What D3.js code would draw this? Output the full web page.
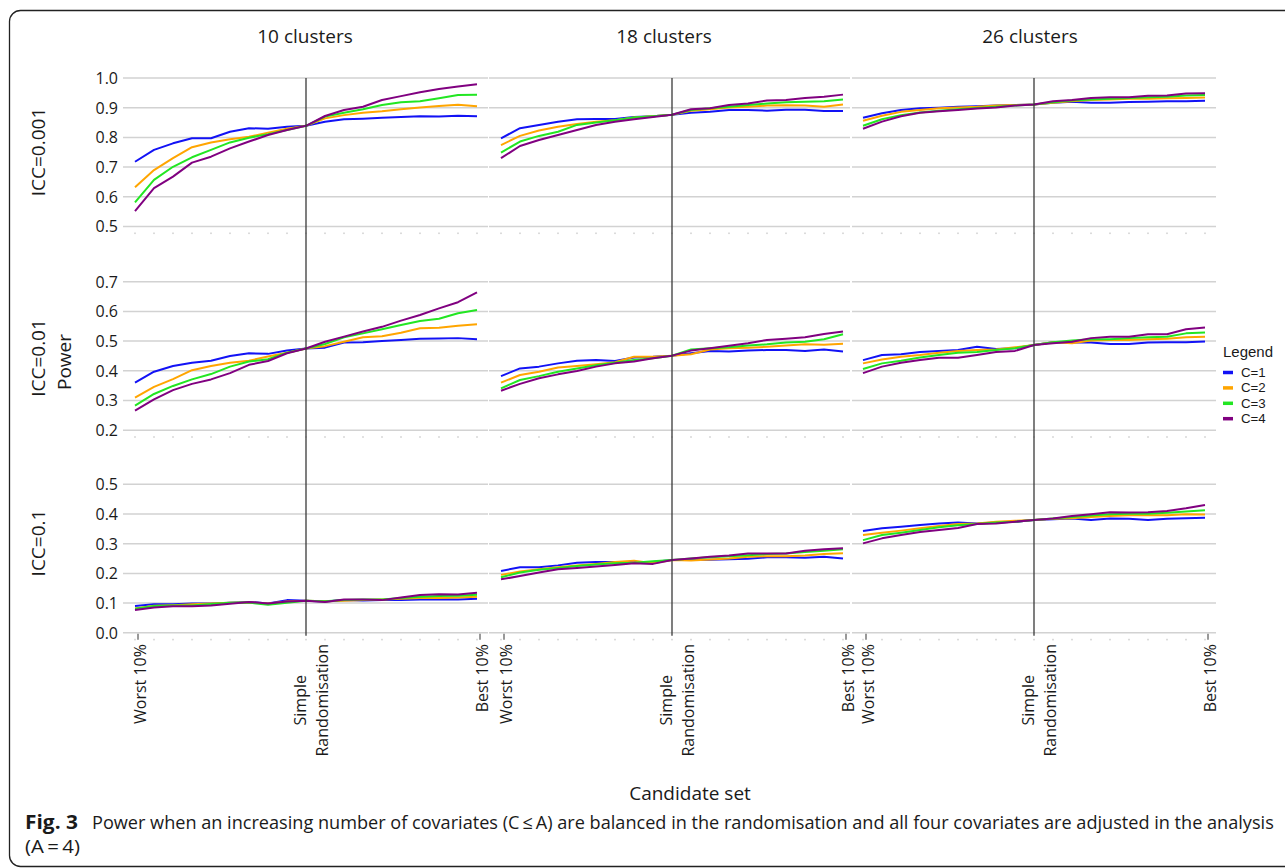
<!DOCTYPE html>
<html>
<head>
<meta charset="utf-8">
<script src="https://cdnjs.cloudflare.com/ajax/libs/d3/7.8.5/d3.min.js"></script>
<style>
    body { margin: 0; background: #fff; }
    svg { display: block; font-family: 'Open Sans', sans-serif; }
</style>
</head>
<body>
<div id="viz-power"></div>
<script>
// Candidate sets along x (worst 10% ... simple randomisation ... best 10%)
const candidateSets = [
    'Worst 10%', 'Worst 20%', 'Worst 30%', 'Worst 40%', 'Worst 50%', 'Worst 60%', 'Worst 70%', 'Worst 80%', 'Worst 90%',
    'Simple Randomisation',
    'Best 90%', 'Best 80%', 'Best 70%', 'Best 60%', 'Best 50%', 'Best 40%', 'Best 30%', 'Best 20%', 'Best 10%'
];
const tickLabels = [
    { key: 'Worst 10%', lines: ['Worst 10%'] },
    { key: 'Simple Randomisation', lines: ['Simple', 'Randomisation'] },
    { key: 'Best 10%', lines: ['Best 10%'] }
];
const clusterLabels = ['10 clusters', '18 clusters', '26 clusters'];
const iccLabels = ['ICC=0.001', 'ICC=0.01', 'ICC=0.1'];
const seriesNames = ['C=1', 'C=2', 'C=3', 'C=4'];
const seriesColors = ['#1212f5', '#ffa500', '#22e622', '#800080'];
const yTicksIcc0001 = [0.5, 0.6, 0.7, 0.8, 0.9, 1.0];
const yTicksIcc001 = [0.2, 0.3, 0.4, 0.5, 0.6, 0.7];
const yTicksIcc01 = [0.0, 0.1, 0.2, 0.3, 0.4, 0.5];

// Power, one row per C (C=1..4)
const power_k10_icc0001 = [
    [0.718, 0.758, 0.780, 0.797, 0.797, 0.819, 0.831, 0.829, 0.836, 0.839, 0.853, 0.861, 0.863, 0.866, 0.869, 0.871, 0.870, 0.873, 0.871],
    [0.632, 0.690, 0.730, 0.767, 0.783, 0.794, 0.802, 0.816, 0.829, 0.839, 0.864, 0.875, 0.883, 0.888, 0.895, 0.901, 0.906, 0.910, 0.905],
    [0.581, 0.657, 0.701, 0.733, 0.758, 0.783, 0.799, 0.811, 0.825, 0.839, 0.870, 0.883, 0.895, 0.909, 0.918, 0.922, 0.932, 0.943, 0.944],
    [0.552, 0.629, 0.668, 0.715, 0.735, 0.763, 0.786, 0.808, 0.825, 0.839, 0.872, 0.892, 0.903, 0.926, 0.939, 0.952, 0.963, 0.971, 0.979]
];
const power_k18_icc0001 = [
    [0.797, 0.831, 0.842, 0.853, 0.861, 0.862, 0.862, 0.869, 0.871, 0.876, 0.883, 0.886, 0.892, 0.892, 0.890, 0.893, 0.893, 0.889, 0.889],
    [0.774, 0.805, 0.823, 0.836, 0.845, 0.853, 0.858, 0.867, 0.871, 0.876, 0.890, 0.895, 0.901, 0.903, 0.907, 0.908, 0.907, 0.903, 0.911],
    [0.749, 0.786, 0.805, 0.819, 0.842, 0.850, 0.858, 0.867, 0.871, 0.876, 0.892, 0.898, 0.903, 0.909, 0.914, 0.918, 0.920, 0.922, 0.928],
    [0.730, 0.771, 0.791, 0.808, 0.825, 0.842, 0.853, 0.861, 0.869, 0.876, 0.895, 0.898, 0.909, 0.914, 0.924, 0.926, 0.933, 0.937, 0.944]
];
const power_k26_icc0001 = [
    [0.866, 0.881, 0.892, 0.898, 0.900, 0.903, 0.905, 0.907, 0.909, 0.911, 0.917, 0.920, 0.917, 0.917, 0.919, 0.920, 0.922, 0.922, 0.923],
    [0.856, 0.873, 0.886, 0.892, 0.898, 0.901, 0.903, 0.907, 0.909, 0.911, 0.917, 0.922, 0.926, 0.928, 0.930, 0.930, 0.932, 0.933, 0.934],
    [0.839, 0.861, 0.875, 0.884, 0.890, 0.895, 0.899, 0.903, 0.907, 0.911, 0.918, 0.924, 0.928, 0.930, 0.933, 0.935, 0.937, 0.941, 0.943],
    [0.829, 0.853, 0.871, 0.883, 0.888, 0.892, 0.897, 0.901, 0.907, 0.911, 0.922, 0.926, 0.933, 0.935, 0.935, 0.940, 0.941, 0.948, 0.949]
];
const power_k10_icc001 = [
    [0.360, 0.397, 0.416, 0.427, 0.434, 0.450, 0.459, 0.457, 0.468, 0.475, 0.478, 0.495, 0.496, 0.500, 0.504, 0.508, 0.509, 0.510, 0.506],
    [0.310, 0.346, 0.372, 0.402, 0.416, 0.427, 0.434, 0.448, 0.461, 0.475, 0.483, 0.498, 0.513, 0.516, 0.528, 0.543, 0.545, 0.552, 0.557],
    [0.283, 0.322, 0.349, 0.371, 0.389, 0.414, 0.431, 0.439, 0.461, 0.475, 0.490, 0.513, 0.526, 0.540, 0.554, 0.568, 0.575, 0.594, 0.605],
    [0.266, 0.304, 0.335, 0.356, 0.371, 0.392, 0.420, 0.433, 0.459, 0.475, 0.498, 0.515, 0.532, 0.548, 0.569, 0.588, 0.610, 0.631, 0.664]
];
const power_k18_icc001 = [
    [0.382, 0.408, 0.414, 0.425, 0.434, 0.436, 0.433, 0.445, 0.447, 0.451, 0.459, 0.467, 0.465, 0.468, 0.470, 0.470, 0.467, 0.472, 0.465],
    [0.360, 0.386, 0.397, 0.411, 0.416, 0.422, 0.429, 0.447, 0.447, 0.451, 0.456, 0.472, 0.476, 0.478, 0.481, 0.485, 0.489, 0.488, 0.491],
    [0.341, 0.369, 0.382, 0.397, 0.408, 0.419, 0.427, 0.436, 0.442, 0.451, 0.472, 0.476, 0.479, 0.485, 0.489, 0.495, 0.498, 0.506, 0.523],
    [0.333, 0.356, 0.375, 0.388, 0.399, 0.414, 0.425, 0.431, 0.442, 0.451, 0.468, 0.476, 0.484, 0.493, 0.504, 0.508, 0.513, 0.524, 0.532]
];
const power_k26_icc001 = [
    [0.436, 0.453, 0.456, 0.463, 0.467, 0.470, 0.481, 0.473, 0.476, 0.487, 0.496, 0.495, 0.495, 0.490, 0.490, 0.495, 0.496, 0.496, 0.499],
    [0.425, 0.438, 0.447, 0.453, 0.461, 0.467, 0.470, 0.472, 0.479, 0.487, 0.496, 0.493, 0.502, 0.504, 0.504, 0.506, 0.508, 0.513, 0.515],
    [0.406, 0.425, 0.434, 0.445, 0.453, 0.461, 0.463, 0.470, 0.476, 0.487, 0.496, 0.502, 0.506, 0.506, 0.510, 0.513, 0.515, 0.526, 0.529],
    [0.392, 0.414, 0.427, 0.436, 0.444, 0.444, 0.453, 0.463, 0.467, 0.487, 0.493, 0.498, 0.510, 0.515, 0.515, 0.523, 0.523, 0.540, 0.546]
];
const power_k10_icc01 = [
    [0.090, 0.096, 0.096, 0.099, 0.099, 0.101, 0.104, 0.099, 0.110, 0.108, 0.105, 0.110, 0.109, 0.110, 0.110, 0.112, 0.113, 0.112, 0.115],
    [0.082, 0.091, 0.093, 0.096, 0.099, 0.101, 0.102, 0.099, 0.105, 0.108, 0.106, 0.108, 0.110, 0.112, 0.115, 0.117, 0.117, 0.119, 0.121],
    [0.081, 0.090, 0.092, 0.092, 0.097, 0.101, 0.102, 0.094, 0.101, 0.108, 0.106, 0.110, 0.112, 0.112, 0.117, 0.121, 0.124, 0.125, 0.128],
    [0.077, 0.085, 0.089, 0.089, 0.092, 0.098, 0.104, 0.099, 0.105, 0.108, 0.104, 0.112, 0.112, 0.110, 0.119, 0.127, 0.130, 0.129, 0.135]
];
const power_k18_icc01 = [
    [0.208, 0.221, 0.221, 0.227, 0.236, 0.238, 0.238, 0.238, 0.238, 0.245, 0.245, 0.246, 0.248, 0.249, 0.254, 0.254, 0.253, 0.256, 0.250],
    [0.195, 0.206, 0.214, 0.221, 0.227, 0.232, 0.238, 0.243, 0.234, 0.245, 0.243, 0.247, 0.250, 0.256, 0.258, 0.258, 0.260, 0.265, 0.268],
    [0.187, 0.203, 0.212, 0.218, 0.225, 0.230, 0.234, 0.236, 0.241, 0.245, 0.250, 0.254, 0.258, 0.261, 0.265, 0.267, 0.272, 0.276, 0.281],
    [0.180, 0.191, 0.203, 0.214, 0.218, 0.223, 0.228, 0.234, 0.232, 0.245, 0.250, 0.256, 0.260, 0.267, 0.267, 0.267, 0.276, 0.281, 0.285]
];
const power_k26_icc01 = [
    [0.343, 0.352, 0.357, 0.363, 0.368, 0.371, 0.368, 0.371, 0.374, 0.380, 0.382, 0.385, 0.380, 0.385, 0.384, 0.380, 0.384, 0.386, 0.387],
    [0.329, 0.337, 0.344, 0.352, 0.360, 0.366, 0.368, 0.374, 0.377, 0.380, 0.384, 0.386, 0.390, 0.393, 0.396, 0.396, 0.396, 0.399, 0.398],
    [0.312, 0.329, 0.337, 0.346, 0.355, 0.362, 0.366, 0.371, 0.374, 0.380, 0.385, 0.390, 0.395, 0.399, 0.401, 0.401, 0.404, 0.408, 0.413],
    [0.301, 0.318, 0.329, 0.339, 0.346, 0.353, 0.366, 0.368, 0.374, 0.380, 0.385, 0.393, 0.399, 0.406, 0.405, 0.406, 0.410, 0.419, 0.430]
];

const panelRows = [
    { ticks: yTicksIcc0001, panels: [power_k10_icc0001, power_k18_icc0001, power_k26_icc0001] },
    { ticks: yTicksIcc001, panels: [power_k10_icc001, power_k18_icc001, power_k26_icc001] },
    { ticks: yTicksIcc01, panels: [power_k10_icc01, power_k18_icc01, power_k26_icc01] }
];

function createPowerChart() {
    const container = d3.select('#viz-power');
    container.selectAll('*').remove();

    const W = 1285, H = 868;
    const colX = [125, 491, 853];     // panel left edges
    const colW = 362;
    const gridStart = [123, 489, 852];
    const gridEnd = [488, 850, 1216];
    const titleX = [305, 664, 1030];
    const rowTop = [78, 281.7, 484.3];
    const rowH = 156;
    const pad = 0.0253;               // space below lowest tick

    const svg = container.append('svg')
        .attr('width', W)
        .attr('height', H);

    // Figure frame (open to the right, like the journal box)
    svg.append('rect')
        .attr('x', 9.5).attr('y', 10.5)
        .attr('width', 1320).attr('height', 856)
        .attr('rx', 11)
        .attr('fill', 'none')
        .attr('stroke', '#222')
        .attr('stroke-width', 1.3);

    const xScales = colX.map(x0 => d3.scalePoint()
        .domain(candidateSets)
        .range([x0 + 10, x0 + colW - 10]));

    const yScales = panelRows.map((row, r) => d3.scaleLinear()
        .domain([d3.min(row.ticks) - pad, d3.max(row.ticks)])
        .range([rowTop[r] + rowH, rowTop[r]]));

    // Column titles
    clusterLabels.forEach((label, c) => {
        svg.append('text')
            .attr('x', titleX[c])
            .attr('y', 43)
            .attr('text-anchor', 'middle')
            .style('font-size', '19px')
            .style('fill', '#1a1a1a')
            .text(label);
    });

    panelRows.forEach((row, r) => {
        const yScale = yScales[r];

        // Y tick labels (left column only)
        row.ticks.forEach(t => {
            svg.append('text')
                .attr('x', 118)
                .attr('y', yScale(t))
                .attr('text-anchor', 'end')
                .attr('dominant-baseline', 'central')
                .style('font-size', '16px')
                .style('fill', '#1a1a1a')
                .text(d3.format('.1f')(t));
        });

        row.panels.forEach((series, c) => {
            const xScale = xScales[c];
            const g = svg.append('g');

            // Grid
            g.selectAll('.grid')
                .data(row.ticks)
                .enter()
                .append('line')
                .attr('x1', gridStart[c])
                .attr('x2', gridEnd[c])
                .attr('y1', d => yScale(d))
                .attr('y2', d => yScale(d))
                .attr('stroke', '#d2d2d2')
                .attr('stroke-width', 1.5);

            // tiny minor marks along the panel bottom
            g.selectAll('.minor')
                .data(candidateSets)
                .enter()
                .append('rect')
                .attr('x', d => xScale(d) - 0.6)
                .attr('y', rowTop[r] + rowH - 1.5)
                .attr('width', 1.2)
                .attr('height', 1.6)
                .attr('fill', '#c4c4c4');

            const line = d3.line()
                .x((d, i) => xScale(candidateSets[i]))
                .y(d => yScale(d));

            series.forEach((vals, s) => {
                g.append('path')
                    .datum(vals)
                    .attr('d', line)
                    .attr('fill', 'none')
                    .attr('stroke', seriesColors[s])
                    .attr('stroke-width', 2)
                    .attr('stroke-linejoin', 'round');
            });
        });
    });

    // Simple randomisation reference lines, across all rows
    xScales.forEach(xScale => {
        svg.append('line')
            .attr('x1', xScale('Simple Randomisation'))
            .attr('x2', xScale('Simple Randomisation'))
            .attr('y1', yScales[0](1.0))
            .attr('y2', yScales[2](0) + 3)
            .attr('stroke', '#3a3a3a')
            .attr('stroke-width', 1.3);
    });

    // Bottom x labels + ticks
    const axisY = yScales[2](0);
    xScales.forEach(xScale => {
        tickLabels.forEach(tl => {
            const x = xScale(tl.key);
            if (tl.key !== 'Simple Randomisation') {
                svg.append('line')
                    .attr('x1', x + 3).attr('x2', x + 3)
                    .attr('y1', axisY + 1).attr('y2', axisY + 7)
                    .attr('stroke', '#555')
                    .attr('stroke-width', 1.2);
            }
            const lg = svg.append('g')
                .attr('transform', `translate(${x + 5}, 644) rotate(-90)`);
            const texts = tl.lines.map((ln, k) => lg.append('text')
                .attr('y', (k - (tl.lines.length - 1) / 2) * 22)
                .attr('dominant-baseline', 'central')
                .attr('text-anchor', tl.lines.length > 1 ? 'middle' : 'end')
                .style('font-size', '16px')
                .style('fill', '#1a1a1a')
                .text(ln));
            if (tl.lines.length > 1) {
                const maxLen = d3.max(texts, t => t.node().getComputedTextLength());
                texts.forEach(t => t.attr('x', -maxLen / 2));
            }
        });
    });

    // Row labels
    const rowLabelY = [152, 358, 543];
    iccLabels.forEach((label, r) => {
        svg.append('text')
            .attr('transform', `translate(38, ${rowLabelY[r]}) rotate(-90)`)
            .attr('text-anchor', 'middle')
            .attr('dominant-baseline', 'central')
            .style('font-size', '19px')
            .style('fill', '#1a1a1a')
            .text(label);
    });
    svg.append('text')
        .attr('transform', 'translate(64, 362) rotate(-90)')
        .attr('text-anchor', 'middle')
        .attr('dominant-baseline', 'central')
        .style('font-size', '19px')
        .style('fill', '#1a1a1a')
        .text('Power');

    // X axis title
    svg.append('text')
        .attr('x', 690)
        .attr('y', 793)
        .attr('text-anchor', 'middle')
        .attr('dominant-baseline', 'central')
        .style('font-size', '19px')
        .style('fill', '#1a1a1a')
        .text('Candidate set');

    // Legend
    const legend = svg.append('g').attr('transform', 'translate(1223, 0)');
    legend.append('text')
        .attr('x', 0).attr('y', 351)
        .attr('dominant-baseline', 'central')
        .style('font-family', "'Liberation Sans', Arial, sans-serif")
        .style('font-size', '15px')
        .style('fill', '#1a1a1a')
        .text('Legend');
    seriesNames.forEach((name, i) => {
        const y = 372.5 + i * 15.4;
        legend.append('line')
            .attr('x1', 0).attr('x2', 10)
            .attr('y1', y).attr('y2', y)
            .attr('stroke', seriesColors[i])
            .attr('stroke-width', 3.5);
        legend.append('text')
            .attr('x', 18).attr('y', y)
            .attr('dominant-baseline', 'central')
            .style('font-family', "'Liberation Sans', Arial, sans-serif")
            .style('font-size', '13.3px')
            .style('fill', '#1a1a1a')
            .text(name);
    });

    // Caption: squeeze horizontally to the journal's condensed face
    function fitText(x, y, width, size, weight, str) {
        const g = svg.append('g');
        const t = g.append('text')
            .attr('x', 0).attr('y', 0)
            .style('font-size', size + 'px')
            .style('font-weight', weight)
            .style('fill', '#1a1a1a')
            .text(str);
        const natural = t.node().getComputedTextLength();
        g.attr('transform', `translate(${x}, ${y}) scale(${width / natural}, 1)`);
    }
    fitText(25, 829, 53, 19, 700, 'Fig. 3');
    fitText(92, 829, 1183, 18.5, 400, 'Power when an increasing number of covariates (C\u2009\u2264\u2009A) are balanced in the randomisation and all four covariates are adjusted in the analysis');
    fitText(25, 853, 55, 18.5, 400, '(A\u2009=\u20094)');
}

createPowerChart();
</script>
</body>
</html>
